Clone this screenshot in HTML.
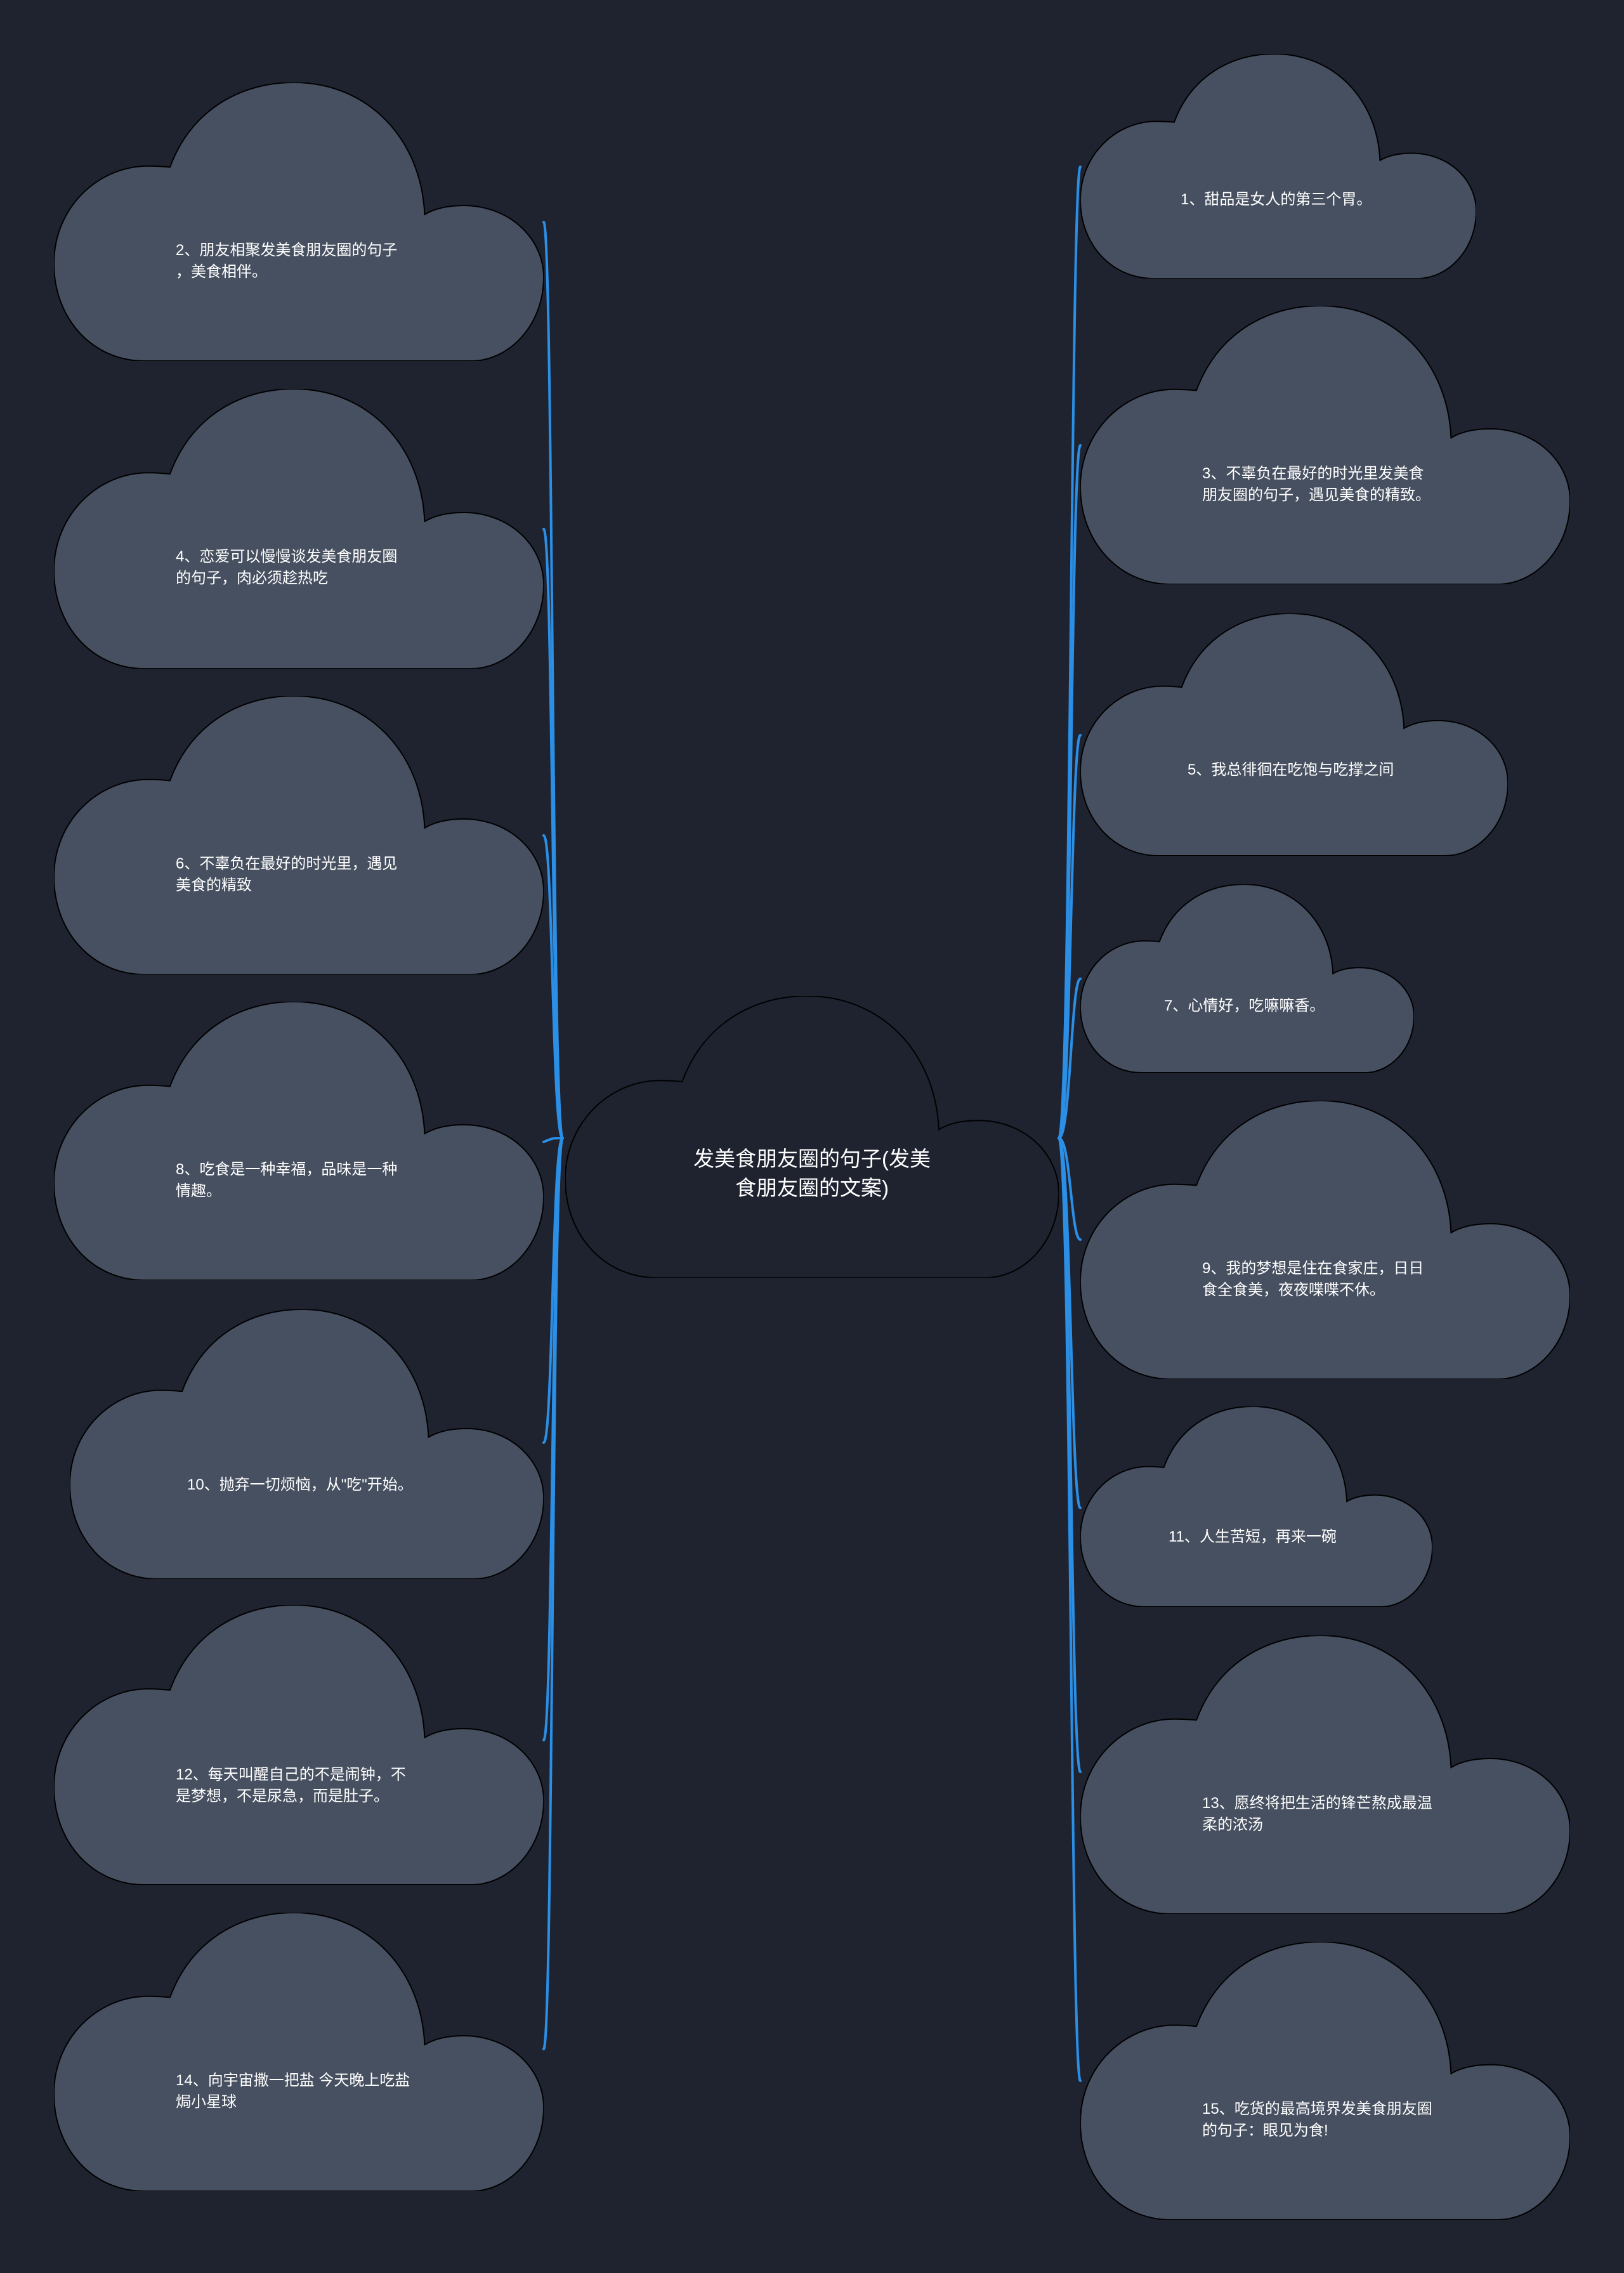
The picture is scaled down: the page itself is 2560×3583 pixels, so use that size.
<!DOCTYPE html>
<html><head><meta charset="utf-8"><style>
html,body{margin:0;padding:0;background:#1f2330;}
#c{position:relative;width:2560px;height:3583px;overflow:hidden;background:#1f2330;}
.cl{position:absolute;}
.t{position:absolute;color:#fff;font-family:"Liberation Sans","Noto Sans CJK SC",sans-serif;font-size:24px;line-height:34px;white-space:nowrap;}
.ct{font-size:33px;line-height:46px;text-align:center;}
</style></head><body><div id="c">
<svg width="2560" height="3583" style="position:absolute;left:0;top:0" xmlns="http://www.w3.org/2000/svg">
<defs></defs>
<g fill="none" stroke="#2b8fe6" stroke-width="4" stroke-linecap="round">
<path d="M887 1794 C870 1794 872 350 857 350"/>
<path d="M887 1794 C870 1794 872 834 857 834"/>
<path d="M887 1794 C870 1794 872 1317 857 1317"/>
<path d="M887 1794 C870 1794 872 1794 857 1800"/>
<path d="M887 1794 C870 1794 872 2274 857 2274"/>
<path d="M887 1794 C870 1794 872 2743 857 2743"/>
<path d="M887 1794 C870 1794 872 3230 857 3230"/>
<path d="M1669 1794 C1688 1794 1688 263 1703 263"/>
<path d="M1669 1794 C1688 1794 1688 702 1703 702"/>
<path d="M1669 1794 C1688 1794 1688 1159 1703 1159"/>
<path d="M1669 1794 C1688 1794 1688 1543 1703 1543"/>
<path d="M1669 1794 C1688 1794 1688 1954 1703 1954"/>
<path d="M1669 1794 C1688 1794 1688 2377 1703 2377"/>
<path d="M1669 1794 C1688 1794 1688 2793 1703 2793"/>
<path d="M1669 1794 C1688 1794 1688 3280 1703 3280"/>
</g>
</svg>
<!-- clouds -->
<svg class="cl" style="left:85px;top:130px;width:772px;height:439px" viewBox="0 0 1000 1000" preserveAspectRatio="none"><path id="p" d="M237 304 C280 100 380 0 490 0 C640 0 750 200 757 474 C780 450 810 442 837 442 C930 442 1000 560 1000 700 C1000 870 930 1000 852 1000 L184 1000 C80 1000 0 850 0 650 C0 450 90 300 192 300 C210 300 225 302 237 304 Z" fill="#475060" stroke="#000" stroke-width="2" vector-effect="non-scaling-stroke"/></svg>
<svg class="cl" style="left:85px;top:613px;width:772px;height:441px" viewBox="0 0 1000 1000" preserveAspectRatio="none"><path d="M237 304 C280 100 380 0 490 0 C640 0 750 200 757 474 C780 450 810 442 837 442 C930 442 1000 560 1000 700 C1000 870 930 1000 852 1000 L184 1000 C80 1000 0 850 0 650 C0 450 90 300 192 300 C210 300 225 302 237 304 Z" fill="#475060" stroke="#000" stroke-width="2" vector-effect="non-scaling-stroke"/></svg>
<svg class="cl" style="left:85px;top:1097px;width:772px;height:439px" viewBox="0 0 1000 1000" preserveAspectRatio="none"><path d="M237 304 C280 100 380 0 490 0 C640 0 750 200 757 474 C780 450 810 442 837 442 C930 442 1000 560 1000 700 C1000 870 930 1000 852 1000 L184 1000 C80 1000 0 850 0 650 C0 450 90 300 192 300 C210 300 225 302 237 304 Z" fill="#475060" stroke="#000" stroke-width="2" vector-effect="non-scaling-stroke"/></svg>
<svg class="cl" style="left:85px;top:1579px;width:772px;height:439px" viewBox="0 0 1000 1000" preserveAspectRatio="none"><path d="M237 304 C280 100 380 0 490 0 C640 0 750 200 757 474 C780 450 810 442 837 442 C930 442 1000 560 1000 700 C1000 870 930 1000 852 1000 L184 1000 C80 1000 0 850 0 650 C0 450 90 300 192 300 C210 300 225 302 237 304 Z" fill="#475060" stroke="#000" stroke-width="2" vector-effect="non-scaling-stroke"/></svg>
<svg class="cl" style="left:110px;top:2064px;width:747px;height:425px" viewBox="0 0 1000 1000" preserveAspectRatio="none"><path d="M237 304 C280 100 380 0 490 0 C640 0 750 200 757 474 C780 450 810 442 837 442 C930 442 1000 560 1000 700 C1000 870 930 1000 852 1000 L184 1000 C80 1000 0 850 0 650 C0 450 90 300 192 300 C210 300 225 302 237 304 Z" fill="#475060" stroke="#000" stroke-width="2" vector-effect="non-scaling-stroke"/></svg>
<svg class="cl" style="left:85px;top:2530px;width:772px;height:441px" viewBox="0 0 1000 1000" preserveAspectRatio="none"><path d="M237 304 C280 100 380 0 490 0 C640 0 750 200 757 474 C780 450 810 442 837 442 C930 442 1000 560 1000 700 C1000 870 930 1000 852 1000 L184 1000 C80 1000 0 850 0 650 C0 450 90 300 192 300 C210 300 225 302 237 304 Z" fill="#475060" stroke="#000" stroke-width="2" vector-effect="non-scaling-stroke"/></svg>
<svg class="cl" style="left:85px;top:3015px;width:772px;height:439px" viewBox="0 0 1000 1000" preserveAspectRatio="none"><path d="M237 304 C280 100 380 0 490 0 C640 0 750 200 757 474 C780 450 810 442 837 442 C930 442 1000 560 1000 700 C1000 870 930 1000 852 1000 L184 1000 C80 1000 0 850 0 650 C0 450 90 300 192 300 C210 300 225 302 237 304 Z" fill="#475060" stroke="#000" stroke-width="2" vector-effect="non-scaling-stroke"/></svg>
<svg class="cl" style="left:891px;top:1570px;width:778px;height:444px" viewBox="0 0 1000 1000" preserveAspectRatio="none"><path d="M237 304 C280 100 380 0 490 0 C640 0 750 200 757 474 C780 450 810 442 837 442 C930 442 1000 560 1000 700 C1000 870 930 1000 852 1000 L184 1000 C80 1000 0 850 0 650 C0 450 90 300 192 300 C210 300 225 302 237 304 Z" fill="#1f2330" stroke="#000" stroke-width="2" vector-effect="non-scaling-stroke"/></svg>
<svg class="cl" style="left:1703px;top:85px;width:624px;height:354px" viewBox="0 0 1000 1000" preserveAspectRatio="none"><path d="M237 304 C280 100 380 0 490 0 C640 0 750 200 757 474 C780 450 810 442 837 442 C930 442 1000 560 1000 700 C1000 870 930 1000 852 1000 L184 1000 C80 1000 0 850 0 650 C0 450 90 300 192 300 C210 300 225 302 237 304 Z" fill="#475060" stroke="#000" stroke-width="2" vector-effect="non-scaling-stroke"/></svg>
<svg class="cl" style="left:1703px;top:482px;width:772px;height:439px" viewBox="0 0 1000 1000" preserveAspectRatio="none"><path d="M237 304 C280 100 380 0 490 0 C640 0 750 200 757 474 C780 450 810 442 837 442 C930 442 1000 560 1000 700 C1000 870 930 1000 852 1000 L184 1000 C80 1000 0 850 0 650 C0 450 90 300 192 300 C210 300 225 302 237 304 Z" fill="#475060" stroke="#000" stroke-width="2" vector-effect="non-scaling-stroke"/></svg>
<svg class="cl" style="left:1703px;top:967px;width:674px;height:382px" viewBox="0 0 1000 1000" preserveAspectRatio="none"><path d="M237 304 C280 100 380 0 490 0 C640 0 750 200 757 474 C780 450 810 442 837 442 C930 442 1000 560 1000 700 C1000 870 930 1000 852 1000 L184 1000 C80 1000 0 850 0 650 C0 450 90 300 192 300 C210 300 225 302 237 304 Z" fill="#475060" stroke="#000" stroke-width="2" vector-effect="non-scaling-stroke"/></svg>
<svg class="cl" style="left:1703px;top:1394px;width:526px;height:297px" viewBox="0 0 1000 1000" preserveAspectRatio="none"><path d="M237 304 C280 100 380 0 490 0 C640 0 750 200 757 474 C780 450 810 442 837 442 C930 442 1000 560 1000 700 C1000 870 930 1000 852 1000 L184 1000 C80 1000 0 850 0 650 C0 450 90 300 192 300 C210 300 225 302 237 304 Z" fill="#475060" stroke="#000" stroke-width="2" vector-effect="non-scaling-stroke"/></svg>
<svg class="cl" style="left:1703px;top:1735px;width:772px;height:439px" viewBox="0 0 1000 1000" preserveAspectRatio="none"><path d="M237 304 C280 100 380 0 490 0 C640 0 750 200 757 474 C780 450 810 442 837 442 C930 442 1000 560 1000 700 C1000 870 930 1000 852 1000 L184 1000 C80 1000 0 850 0 650 C0 450 90 300 192 300 C210 300 225 302 237 304 Z" fill="#475060" stroke="#000" stroke-width="2" vector-effect="non-scaling-stroke"/></svg>
<svg class="cl" style="left:1703px;top:2217px;width:555px;height:316px" viewBox="0 0 1000 1000" preserveAspectRatio="none"><path d="M237 304 C280 100 380 0 490 0 C640 0 750 200 757 474 C780 450 810 442 837 442 C930 442 1000 560 1000 700 C1000 870 930 1000 852 1000 L184 1000 C80 1000 0 850 0 650 C0 450 90 300 192 300 C210 300 225 302 237 304 Z" fill="#475060" stroke="#000" stroke-width="2" vector-effect="non-scaling-stroke"/></svg>
<svg class="cl" style="left:1703px;top:2578px;width:772px;height:439px" viewBox="0 0 1000 1000" preserveAspectRatio="none"><path d="M237 304 C280 100 380 0 490 0 C640 0 750 200 757 474 C780 450 810 442 837 442 C930 442 1000 560 1000 700 C1000 870 930 1000 852 1000 L184 1000 C80 1000 0 850 0 650 C0 450 90 300 192 300 C210 300 225 302 237 304 Z" fill="#475060" stroke="#000" stroke-width="2" vector-effect="non-scaling-stroke"/></svg>
<svg class="cl" style="left:1703px;top:3061px;width:772px;height:438px" viewBox="0 0 1000 1000" preserveAspectRatio="none"><path d="M237 304 C280 100 380 0 490 0 C640 0 750 200 757 474 C780 450 810 442 837 442 C930 442 1000 560 1000 700 C1000 870 930 1000 852 1000 L184 1000 C80 1000 0 850 0 650 C0 450 90 300 192 300 C210 300 225 302 237 304 Z" fill="#475060" stroke="#000" stroke-width="2" vector-effect="non-scaling-stroke"/></svg>

<!-- texts -->
<div class="t" style="left:277px;top:378px">2、朋友相聚发美食朋友圈的句子<br>，美食相伴。</div>
<div class="t" style="left:277px;top:861px">4、恋爱可以慢慢谈发美食朋友圈<br>的句子，肉必须趁热吃</div>
<div class="t" style="left:277px;top:1345px">6、不辜负在最好的时光里，遇见<br>美食的精致</div>
<div class="t" style="left:277px;top:1827px">8、吃食是一种幸福，品味是一种<br>情趣。</div>
<div class="t" style="left:295px;top:2324px">10、抛弃一切烦恼，从"吃"开始。</div>
<div class="t" style="left:277px;top:2781px">12、每天叫醒自己的不是闹钟，不<br>是梦想，不是尿急，而是肚子。</div>
<div class="t" style="left:277px;top:3263px">14、向宇宙撒一把盐 今天晚上吃盐<br>焗小星球</div>

<div class="t ct" style="left:980px;top:1804px;width:600px">发美食朋友圈的句子(发美<br>食朋友圈的文案)</div>

<div class="t" style="left:1861px;top:298px">1、甜品是女人的第三个胃。</div>
<div class="t" style="left:1895px;top:730px">3、不辜负在最好的时光里发美食<br>朋友圈的句子，遇见美食的精致。</div>
<div class="t" style="left:1872px;top:1197px">5、我总徘徊在吃饱与吃撑之间</div>
<div class="t" style="left:1835px;top:1569px">7、心情好，吃嘛嘛香。</div>
<div class="t" style="left:1895px;top:1983px">9、我的梦想是住在食家庄，日日<br>食全食美，夜夜喋喋不休。</div>
<div class="t" style="left:1842px;top:2406px">11、人生苦短，再来一碗</div>
<div class="t" style="left:1895px;top:2826px">13、愿终将把生活的锋芒熬成最温<br>柔的浓汤</div>
<div class="t" style="left:1895px;top:3308px">15、吃货的最高境界发美食朋友圈<br>的句子：眼见为食!</div>
</div></body></html>
